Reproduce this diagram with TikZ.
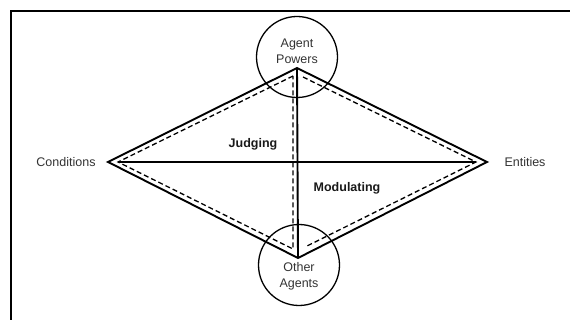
\documentclass[tikz,border=0pt]{standalone}
\usepackage{fontspec}
\setmainfont{Liberation Sans}
\usetikzlibrary{calc}

\tikzset{
  outline/.style={line width=1.9pt, line join=miter},
  inner/.style={line width=1.3pt, dash pattern=on 5pt off 3pt},
  agentring/.style={draw, circle, line width=1.3pt, minimum size=81pt, inner sep=0pt},
  lbl/.style={font=\fontsize{12.5}{16}\selectfont, text=black!80, align=center},
  region/.style={font=\fontsize{12.5}{14}\selectfont\bfseries, text=black!90}
}

\begin{document}
\begin{tikzpicture}[x=1pt, y=-1pt]
\useasboundingbox (0,0) rectangle (570,320);
% frame
\draw[line width=2.6pt] (570,11) -- (11,11) -- (11,320);

% corners of the diamond
\coordinate (cond) at (108,162);
\coordinate (ent) at (487,162);
\coordinate (top) at (297,68);
\coordinate (bot) at (298,258);
% inner corners
\coordinate (condin) at (118,162);
\coordinate (entin) at (476,162);
\coordinate (ltop) at (293,76);
\coordinate (lbot) at (293,249);
\coordinate (rtop) at (303,77);
\coordinate (rbot) at (305,247);

\node[agentring] (powers) at (297,57) {};
\node[agentring] (others) at (299,265) {};
\node[lbl] (powerstxt) at (297,51) {Agent\\Powers};
\node[lbl] (otherstxt) at (299,276) {Other\\Agents};

\node[lbl] (condtxt) at (66,162) {Conditions};
\node[lbl] (enttxt) at (525,162) {Entities};
\node[region] (judging) at (253,144) {Judging};
\node[region] (modulating) at (347,188) {Modulating};

\draw[outline] (cond) -- (top) -- (ent) -- (bot) -- cycle;
\draw[outline] (top) -- (bot);
\draw[outline] (condin) -- (entin);
\draw[inner] (ltop) -- (condin) -- (lbot) -- cycle;
\draw[inner] (rtop) -- (entin) -- (rbot);
\end{tikzpicture}
\end{document}
